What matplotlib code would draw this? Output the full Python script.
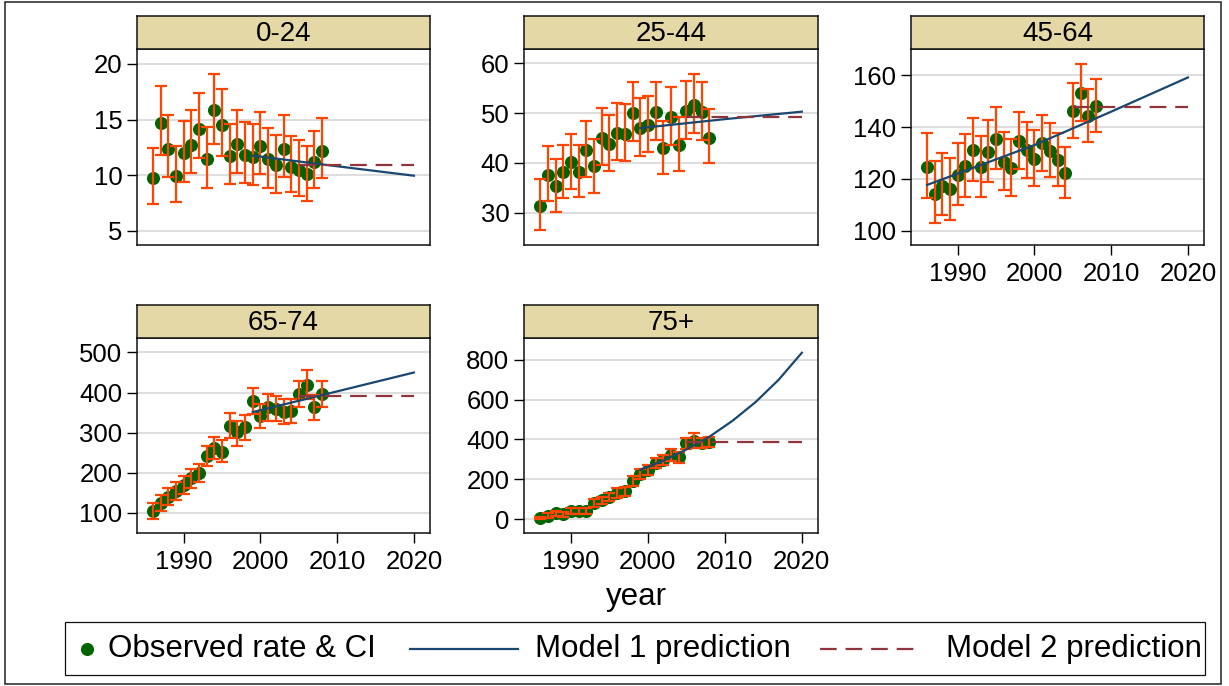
import matplotlib
matplotlib.use("Agg")
import matplotlib.pyplot as plt
from matplotlib.lines import Line2D
from matplotlib.patches import Rectangle
import numpy as np

plt.rcParams['font.family'] = ['Liberation Sans', 'DejaVu Sans']

# ---------------------------------------------------------------- data
years = list(range(1986, 2009))
age_groups = ["0-24", "25-44", "45-64", "65-74", "75+"]

rate_0_24 = [9.76, 14.73, 12.34, 9.94, 11.95, 12.75, 14.19, 11.44, 15.84, 14.55, 11.74, 12.84,
             11.80, 11.65, 12.63, 11.41, 10.90, 12.34, 10.75, 10.45, 10.06, 11.14, 12.19]
lo_0_24 = [7.40, 11.83, 9.79, 7.57, 9.37, 10.18, 11.50, 8.86, 12.84, 11.68, 9.16, 10.21,
           9.25, 9.10, 10.09, 8.86, 8.35, 9.85, 8.44, 8.11, 7.69, 8.80, 9.76]
hi_0_24 = [12.46, 17.99, 15.39, 12.63, 14.91, 15.90, 17.43, 14.31, 19.13, 17.72, 14.61, 15.90,
           14.76, 14.58, 15.69, 14.25, 13.62, 15.42, 13.56, 13.14, 12.63, 13.95, 15.12]

rate_25_44 = [31.4, 37.6, 35.3, 38.2, 40.1, 38.2, 42.5, 39.3, 45.0, 43.8, 46.0, 45.9,
              50.1, 47.0, 47.7, 50.2, 42.9, 49.3, 43.6, 50.5, 51.7, 50.3, 45.1]
lo_25_44 = [26.5, 32.3, 30.1, 32.9, 34.8, 33.1, 37.2, 34.0, 39.6, 38.4, 40.6, 40.3,
            44.5, 41.4, 42.1, 44.6, 37.7, 43.6, 38.4, 44.8, 46.0, 44.6, 40.0]
hi_25_44 = [36.8, 43.4, 40.8, 43.7, 45.8, 43.7, 48.5, 44.9, 51.1, 49.6, 52.1, 51.9,
            56.2, 53.1, 53.5, 56.3, 48.5, 55.2, 49.3, 56.4, 57.8, 56.2, 50.8]

rate_45_64 = [124.8, 114.2, 117.3, 116.0, 121.5, 125.0, 131.2, 124.5, 130.6, 135.4, 126.7, 124.1,
              134.8, 131.2, 127.7, 133.8, 130.9, 127.3, 122.4, 146.4, 153.3, 144.5, 148.2]
lo_45_64 = [112.5, 102.9, 106.1, 104.2, 110.0, 113.2, 119.2, 112.9, 119.0, 123.9, 115.8, 113.4,
            123.7, 120.3, 117.3, 123.2, 120.6, 117.3, 112.8, 135.7, 142.5, 134.4, 138.3]
hi_45_64 = [137.8, 127.0, 129.9, 128.2, 134.0, 137.2, 143.4, 136.6, 142.8, 147.7, 138.3, 135.3,
            146.0, 142.1, 138.9, 144.7, 141.7, 137.9, 132.5, 157.2, 164.4, 154.7, 158.6]

rate_65_74 = [105, 125, 140, 155, 170, 186, 199, 242, 262, 253, 317, 301,
              313, 378, 342, 363, 360, 352, 355, 397, 420, 363, 397]
lo_65_74 = [85, 105, 119, 133, 148, 162, 176, 216, 235, 227, 287, 268,
            282, 347, 312, 330, 328, 322, 324, 363, 384, 332, 363]
hi_65_74 = [125, 144, 161, 176, 193, 209, 223, 268, 289, 281, 349, 330,
            343, 412, 372, 397, 391, 384, 385, 430, 456, 393, 428]

rate_75p = [7, 17, 29, 24, 40, 40, 40, 79, 96, 113, 133, 143,
            192, 225, 247, 281, 297, 323, 311, 382, 393, 382, 387]
lo_75p = [1, 5, 17, 12, 27, 27, 26, 59, 74, 91, 109, 118,
          168, 202, 222, 255, 272, 292, 284, 353, 356, 356, 360]
hi_75p = [13, 30, 40, 37, 54, 54, 54, 101, 114, 133, 155, 163,
          218, 252, 272, 306, 323, 353, 339, 407, 432, 407, 410]

# Model 1 predictions (year, value)
m1_years_0_24 = [1999, 2008, 2020]
m1_vals_0_24 = [11.75, 10.96, 9.94]
m1_years_25_44 = [1999, 2010, 2020]
m1_vals_25_44 = [47.0, 48.8, 50.3]
m1_years_45_64 = [1986, 2000, 2010, 2020]
m1_vals_45_64 = [117.7, 133.1, 146.0, 159.2]
m1_years_65_74 = [1999, 2010, 2020]
m1_vals_65_74 = [351.5, 403.0, 450.0]
m1_years_75p = [1999, 2002, 2005, 2008, 2011, 2014, 2017, 2020]
m1_vals_75p = [248, 294, 350, 414, 494, 588, 700, 835]

# Model 2 predictions: flat level from 2005 to 2020
m2_years = [2005, 2020]
m2_level = [10.87, 49.3, 147.8, 392.0, 388.0]

# y-axis ticks per panel
yticks_0_24 = [5, 10, 15, 20]
yticks_25_44 = [30, 40, 50, 60]
yticks_45_64 = [100, 120, 140, 160]
yticks_65_74 = [100, 200, 300, 400, 500]
yticks_75p = [0, 200, 400, 600, 800]
xticks = [1990, 2000, 2010, 2020]

# ---------------------------------------------------------------- style
C_DOT = "#006400"
C_CI = "#ff4500"
C_M1 = "#1a476f"
C_M2 = "#90353b"
C_STRIP = "#e4d8a6"
C_GRID = "#dedede"

FS_TICK = 18.5
FS_STRIP = 20
FS_BIG = 22.5

W, H = 1229, 686
fig = plt.figure(figsize=(W / 100, H / 100), dpi=100)


def px_axes(left, top, right, bottom):
    return fig.add_axes([left / W, 1 - bottom / H, (right - left) / W, (bottom - top) / H])


panels = [
    dict(name=age_groups[0], rate=rate_0_24, lo=lo_0_24, hi=hi_0_24,
         m1x=m1_years_0_24, m1y=m1_vals_0_24, m2=m2_level[0], yt=yticks_0_24,
         ylim=(3.7, 21.35), box=(137, 49, 430, 245), xlab=False),
    dict(name=age_groups[1], rate=rate_25_44, lo=lo_25_44, hi=hi_25_44,
         m1x=m1_years_25_44, m1y=m1_vals_25_44, m2=m2_level[1], yt=yticks_25_44,
         ylim=(23.5, 62.9), box=(524, 49, 818, 245), xlab=False),
    dict(name=age_groups[2], rate=rate_45_64, lo=lo_45_64, hi=hi_45_64,
         m1x=m1_years_45_64, m1y=m1_vals_45_64, m2=m2_level[2], yt=yticks_45_64,
         ylim=(94.5, 170.2), box=(911, 49, 1204, 245), xlab=True),
    dict(name=age_groups[3], rate=rate_65_74, lo=lo_65_74, hi=hi_65_74,
         m1x=m1_years_65_74, m1y=m1_vals_65_74, m2=m2_level[3], yt=yticks_65_74,
         ylim=(50, 536), box=(137, 338, 430, 533), xlab=True),
    dict(name=age_groups[4], rate=rate_75p, lo=lo_75p, hi=hi_75p,
         m1x=m1_years_75p, m1y=m1_vals_75p, m2=m2_level[4], yt=yticks_75p,
         ylim=(-69, 909), box=(524, 338, 818, 533), xlab=True),
]

for p in panels:
    left, top, right, bottom = p["box"]
    ax = px_axes(left, top, right, bottom)
    rate = np.array(p["rate"])
    lo = np.array(p["lo"])
    hi = np.array(p["hi"])

    for yv in p["yt"]:
        ax.axhline(yv, color=C_GRID, lw=1.5, zorder=0)

    ax.plot(years, rate, "o", color=C_DOT, ms=8.4, mec=C_DOT, zorder=2)
    ax.errorbar(years, rate, yerr=[rate - lo, hi - rate], fmt="none", ecolor=C_CI,
                elinewidth=1.6, capsize=4, capthick=1.6, zorder=3)
    ax.plot(p["m1x"], p["m1y"], color=C_M1, lw=1.6, zorder=4)
    ax.plot(m2_years, [p["m2"]] * len(m2_years), color=C_M2, lw=1.6,
            ls=(0, (7.5, 4)), zorder=4)

    ax.set_xlim(1983.9, 2022.1)
    ax.set_ylim(*p["ylim"])
    ax.set_yticks(p["yt"])
    ax.tick_params(axis="y", direction="out", length=7.5, width=1.0, labelsize=FS_TICK, pad=3)
    if p["xlab"]:
        ax.set_xticks(xticks)
        ax.tick_params(axis="x", direction="out", length=7.5, width=1.0, labelsize=FS_TICK, pad=5)
    else:
        ax.set_xticks([])
    for s in ax.spines.values():
        s.set_color("#111111")
        s.set_linewidth(1.1)

    # strip title above the panel
    sax = px_axes(left, top - 33, right, top)
    sax.set_facecolor(C_STRIP)
    sax.set_xticks([])
    sax.set_yticks([])
    for s in sax.spines.values():
        s.set_color("#111111")
        s.set_linewidth(1.1)
    sax.text(0.5, 0.45, p["name"], ha="center", va="center", fontsize=FS_STRIP,
             transform=sax.transAxes)

# x-axis title
fig.text(636 / W, 1 - 597 / H, "year", ha="center", va="center", fontsize=FS_BIG)

# legend
lx0, ly0, lx1, ly1 = 65, 622, 1205, 675
fig.patches.append(Rectangle((lx0 / W, 1 - ly1 / H), (lx1 - lx0) / W, (ly1 - ly0) / H,
                             transform=fig.transFigure, fill=False, ec="#111111", lw=0.9))
ly = 1 - 649 / H
fig.lines.append(Line2D([87 / W], [ly], marker="o", color=C_DOT, ms=8.4,
                        transform=fig.transFigure))
fig.text(108 / W, ly, "Observed rate & CI", ha="left", va="center", fontsize=FS_BIG)
fig.lines.append(Line2D([410 / W, 518 / W], [ly, ly], color=C_M1, lw=1.6,
                        transform=fig.transFigure))
fig.text(535 / W, ly, "Model 1 prediction", ha="left", va="center", fontsize=FS_BIG)
fig.lines.append(Line2D([820 / W, 920 / W], [ly, ly], color=C_M2, lw=1.6, ls=(0, (7.5, 4)),
                        transform=fig.transFigure))
fig.text(946 / W, ly, "Model 2 prediction", ha="left", va="center", fontsize=FS_BIG)

# outer frame
fig.patches.append(Rectangle((5 / W, 1 - 684 / H), (1221 - 5) / W, (684 - 2) / H,
                             transform=fig.transFigure, fill=False, ec="#333333", lw=1.2))

fig.savefig("out.png", dpi=100, facecolor="white")
